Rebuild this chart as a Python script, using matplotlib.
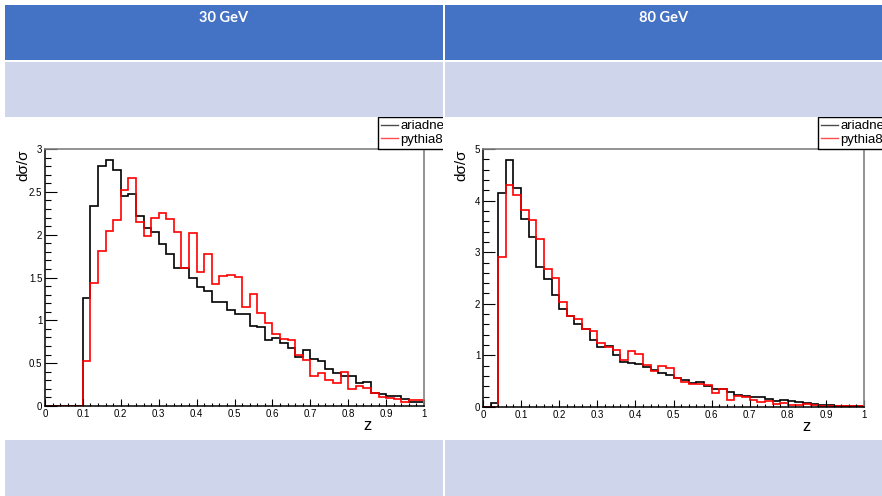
import numpy as np
import matplotlib
matplotlib.use('Agg')
import matplotlib.pyplot as plt
from matplotlib.patches import Rectangle
from matplotlib.ticker import MultipleLocator, FormatStrFormatter
from matplotlib.transforms import Bbox, TransformedBbox

### data: z distribution, 50 bins of 0.02
z_edges = np.linspace(0, 1, 51)

ariadne_30 = [0, 0, 0, 0, 0,
              1.26, 2.34, 2.80, 2.87, 2.75,
              2.45, 2.48, 2.22, 2.08, 2.03,
              1.89, 1.78, 1.61, 1.61, 1.50,
              1.39, 1.34, 1.21, 1.21, 1.12,
              1.07, 1.07, 0.93, 0.92, 0.77,
              0.79, 0.73, 0.68, 0.57, 0.65,
              0.55, 0.52, 0.43, 0.38, 0.35,
              0.35, 0.27, 0.28, 0.15, 0.14,
              0.12, 0.12, 0.08, 0.05, 0.05]
pythia8_30 = [0, 0, 0, 0, 0,
              0.52, 1.43, 1.81, 2.04, 2.17,
              2.52, 2.66, 2.15, 1.99, 2.19,
              2.25, 2.18, 2.03, 1.61, 2.02,
              1.56, 1.77, 1.42, 1.52, 1.53,
              1.51, 1.16, 1.31, 1.09, 0.97,
              0.84, 0.78, 0.77, 0.59, 0.54,
              0.35, 0.39, 0.30, 0.27, 0.40,
              0.20, 0.23, 0.21, 0.15, 0.10,
              0.09, 0.08, 0.05, 0.07, 0.07]
ariadne_80 = [0.00, 0.07,
              4.14, 4.78, 4.24,
              3.65, 3.30, 2.72, 2.48, 2.17,
              1.90, 1.76, 1.60, 1.51, 1.30,
              1.16, 1.18, 1.00, 0.88, 0.86,
              0.83, 0.78, 0.72, 0.65, 0.62,
              0.57, 0.53, 0.46, 0.48, 0.40,
              0.34, 0.35, 0.30, 0.24, 0.21,
              0.20, 0.20, 0.16, 0.11, 0.14,
              0.12, 0.10, 0.08, 0.06, 0.03,
              0.03, 0.02, 0.02, 0.02, 0.01]
pythia8_80 = [0.00, 0.00,
              2.91, 4.31, 4.10,
              3.82, 3.62, 3.25, 2.68, 2.50,
              2.04, 1.76, 1.70, 1.51, 1.48,
              1.24, 1.17, 1.10, 0.92, 1.09,
              1.02, 0.81, 0.70, 0.79, 0.76,
              0.57, 0.49, 0.44, 0.44, 0.43,
              0.28, 0.35, 0.14, 0.21, 0.20,
              0.14, 0.10, 0.12, 0.06, 0.07,
              0.03, 0.04, 0.05, 0.03, 0.02,
              0.02, 0.02, 0.02, 0.02, 0.02]

headers = ['30 GeV', '80 GeV']
names = ['ariadne', 'pythia8']
y_max = [3, 5]
y_major = [0.5, 1]

W, H = 882, 496
blue = '#4472C4'
lavender = '#CFD5EA'

plt.rcParams['font.family'] = ['Liberation Sans', 'DejaVu Sans']

fig = plt.figure(figsize=(W / 100, H / 100), dpi=100)

def fbox(x0, y0, x1, y1):
    # pixel box (top-left origin) -> figure fraction rect
    return [x0 / W, 1 - y1 / H, (x1 - x0) / W, (y1 - y0) / H]

### slide table background
bg = fig.add_axes([0, 0, 1, 1])
bg.set_xlim(0, W)
bg.set_ylim(H, 0)
bg.axis('off')
cols = [(5, 443), (445, 882)]
for (cx0, cx1), head in zip(cols, headers):
    bg.add_patch(Rectangle((cx0, 5), cx1 - cx0, 55, color=blue, lw=0))
    bg.add_patch(Rectangle((cx0, 62), cx1 - cx0, 55, color=lavender, lw=0))
    bg.add_patch(Rectangle((cx0, 440), cx1 - cx0, 60, color=lavender, lw=0))
    bg.text((cx0 + cx1) / 2, 18, head, color='white', fontsize=10.5,
            fontweight='bold', family='Lato', ha='center', va='center')

### the two ROOT plots
frames = [(45, 149, 424, 406), (483, 149, 864, 407)]
data = [(ariadne_30, pythia8_30), (ariadne_80, pythia8_80)]

for i in range(2):
    x0, y0, x1, y1 = frames[i]
    ax = fig.add_axes(fbox(x0, y0, x1, y1))
    ari, pyt = data[i]
    ax.stairs(ari, z_edges, color='black', lw=1.2, label=names[0])
    ax.stairs(pyt, z_edges, color='red', lw=1.2, label=names[1])
    ax.set_xlim(0, 1)
    ax.set_ylim(0, y_max[i])

    ax.xaxis.set_major_locator(MultipleLocator(0.1))
    ax.xaxis.set_minor_locator(MultipleLocator(0.02))
    ax.yaxis.set_major_locator(MultipleLocator(y_major[i]))
    ax.yaxis.set_minor_locator(MultipleLocator(y_major[i] / 5))
    ax.xaxis.set_major_formatter(FormatStrFormatter('%g'))
    ax.yaxis.set_major_formatter(FormatStrFormatter('%g'))
    ax.tick_params(axis='both', which='both', direction='in', width=0.8,
                   labelsize=7, pad=2, top=False, right=False)
    ax.tick_params(axis='y', which='major', length=8.5)
    ax.tick_params(axis='y', which='minor', length=4.3)
    ax.tick_params(axis='x', which='major', length=5)
    ax.tick_params(axis='x', which='minor', length=2.5)
    for s in ['left', 'bottom']:
        ax.spines[s].set_linewidth(1.1)
        ax.spines[s].set_color('black')
    for s in ['top', 'right']:
        ax.spines[s].set_linewidth(1.2)
        ax.spines[s].set_color('#808080')

    ax.set_xlabel('z', fontsize=12)
    ax.xaxis.set_label_coords(0.85, -0.074)
    ax.xaxis.label.set_va('center')
    ax.text(-22 / (x1 - x0), 1 - 16 / (y1 - y0), 'd\u03c3/\u03c3',
            transform=ax.transAxes, rotation=90, fontsize=11,
            ha='center', va='center')

    leg = ax.legend(loc='lower left', bbox_to_anchor=((x1 - 46) / W, 1 - y0 / H),
                    bbox_transform=fig.transFigure, borderaxespad=0,
                    fancybox=False, edgecolor='black', framealpha=1,
                    fontsize=9.5, handlelength=1.3, handletextpad=0.15,
                    borderpad=0.25, labelspacing=0.1)
    leg.get_frame().set_linewidth(1.0)
    for ln in leg.get_lines():
        ln.set_linewidth(1.0)
        ln.set_alpha(0.7)
    # legend sticks out of the table cell, clip it like the slide does
    cx0, cx1 = cols[i]
    clip = TransformedBbox(Bbox.from_extents(cx0 / W, 1 - 437 / H, cx1 / W, 1 - 117 / H),
                           fig.transFigure)
    for a in leg.findobj():
        a.set_clip_on(True)
        a.set_clip_box(clip)

fig.savefig('out.png', dpi=100)
